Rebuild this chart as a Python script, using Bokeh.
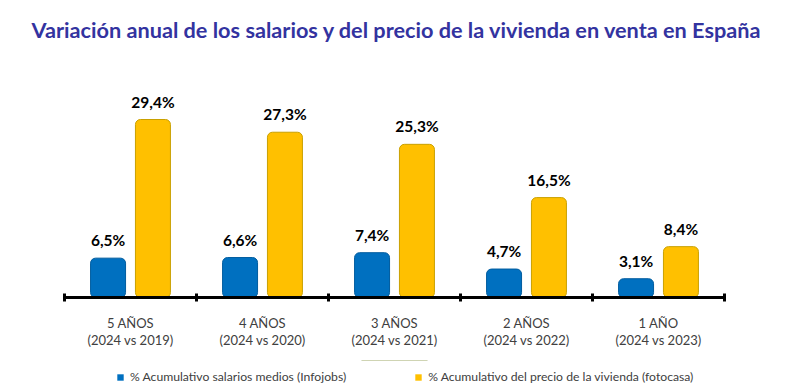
from bokeh.plotting import figure
from bokeh.layouts import column
from bokeh.core.properties import value
from bokeh.models import ColumnDataSource, FixedTicker, LabelSet, Legend, LegendItem, Range1d, LinearAxis, Div
from bokeh.embed import file_html
from bokeh.resources import INLINE

periodos = ["5 AÑOS", "4 AÑOS", "3 AÑOS", "2 AÑOS", "1 AÑO"]
comparaciones = ["(2024 vs 2019)", "(2024 vs 2020)", "(2024 vs 2021)", "(2024 vs 2022)", "(2024 vs 2023)"]
salarios = [6.5, 6.6, 7.4, 4.7, 3.1]
vivienda = [29.4, 27.3, 25.3, 16.5, 8.4]
serie_names = ["% Acumulativo salarios medios (Infojobs)", "% Acumulativo del precio de la vivienda (fotocasa)"]
title_text = "Variación anual de los salarios y del precio de la vivienda en venta en España"
colores = ["#0070C0", "#FFC000"]
bordes = ["#005C9E", "#C9A000"]

def fmt(v):
    return f"{v:.1f}".replace(".", ",") + "%"

centers = [i + 0.5 for i in range(len(periodos))]
off = 0.17
bw = 0.265

src_b = ColumnDataSource(dict(x=[c - off for c in centers], top=salarios, lab=[fmt(v) for v in salarios]))
src_y = ColumnDataSource(dict(x=[c + off for c in centers], top=vivienda, lab=[fmt(v) for v in vivienda]))

title_div = Div(text=title_text, width=772, height=60, margin=0,
                styles={"font-family": "Lato", "font-weight": "bold", "font-size": "21.7px",
                        "color": "#3333A0", "text-align": "center", "line-height": "60px",
                        "padding-left": "20px", "box-sizing": "border-box", "white-space": "nowrap"})

p = figure(width=772, height=300, output_backend="svg", toolbar_location=None,
           x_range=Range1d(0, 5), y_range=Range1d(0, 37),
           min_border_left=64, min_border_right=48, min_border_top=13, min_border_bottom=63,
           y_axis_location=None)
p.outline_line_color = None
p.grid.visible = False

p.vbar(x="x", top="top", width=bw, source=src_b, fill_color=colores[0],
       line_color=bordes[0], line_width=1, border_radius=5)
p.vbar(x="x", top="top", width=bw, source=src_y, fill_color=colores[1],
       line_color=bordes[1], line_width=1, border_radius=5)

for s in (src_b, src_y):
    p.add_layout(LabelSet(x="x", y="top", text="lab", source=s, text_align="center",
                          text_baseline="alphabetic", y_offset=12, text_font=value("Lato"),
                          text_font_style="bold", text_font_size="15.5px", text_color="#000000"))

ax = p.xaxis[0]
ax.ticker = FixedTicker(ticks=centers, minor_ticks=[0, 1, 2, 3, 4, 5])
ax.major_label_overrides = {c: lab for c, lab in zip(centers, periodos)}
ax.major_tick_in = 0
ax.major_tick_out = 0
ax.minor_tick_in = 4
ax.minor_tick_out = 4
ax.minor_tick_line_color = "black"
ax.minor_tick_line_width = 3
ax.axis_line_width = 3
ax.axis_line_color = "black"
ax.major_label_standoff = 13
ax.major_label_text_font = "Lato"
ax.major_label_text_font_size = "13px"
ax.major_label_text_color = "#404040"

ax2 = LinearAxis(ticker=FixedTicker(ticks=centers, minor_ticks=[]),
                 major_label_overrides={c: lab for c, lab in zip(centers, comparaciones)},
                 axis_line_color=None, major_tick_in=0, major_tick_out=0,
                 minor_tick_in=0, minor_tick_out=0, major_label_standoff=-2,
                 major_label_text_font="Lato", major_label_text_font_size="13px",
                 major_label_text_color="#404040")
p.add_layout(ax2, "below")

# legend strip
p2 = figure(width=772, height=24, output_backend="svg", toolbar_location=None,
            x_range=Range1d(0, 1), y_range=Range1d(0, 1),
            min_border_left=64, min_border_right=48, min_border_top=0, min_border_bottom=0,
            x_axis_location=None, y_axis_location=None)
p2.outline_line_color = None
p2.grid.visible = False
r1 = p2.vbar(x=[0.5], bottom=[5], top=[6], width=0.1, fill_color=colores[0], line_color=None)
r2 = p2.vbar(x=[0.5], bottom=[5], top=[6], width=0.1, fill_color=colores[1], line_color=None)
legend = Legend(items=[LegendItem(label=serie_names[0], renderers=[r1]),
                       LegendItem(label=serie_names[1], renderers=[r2])],
                orientation="horizontal", location=(52, 0), spacing=68,
                label_text_font="Lato", label_text_font_size="12.2px", label_text_color="#404040",
                glyph_width=8, glyph_height=8, border_line_color=None, background_fill_alpha=0,
                margin=0, padding=0, label_standoff=6)
p2.add_layout(legend)

open("out.html", "w").write(file_html(column(title_div, p, p2, spacing=0), INLINE))
